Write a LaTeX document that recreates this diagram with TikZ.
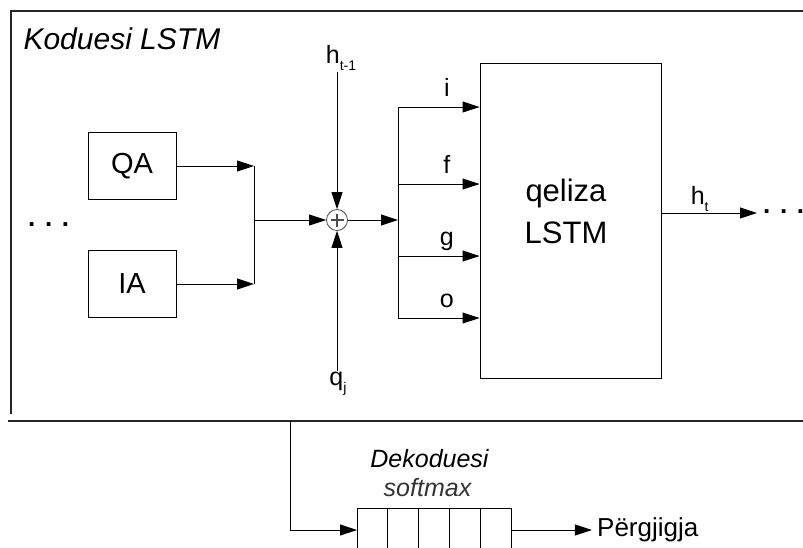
\documentclass[tikz,border=0pt]{standalone}
\usepackage{fontspec}
\setmainfont{Liberation Sans}
\usetikzlibrary{shapes.geometric, arrows.meta, positioning}

\tikzstyle{block} = [rectangle, draw=black, line width=0.9pt, minimum width=88pt, minimum height=67pt, font=\fontsize{29}{30}\selectfont]
\tikzstyle{arrow} = [line width=0.9pt, -{Triangle[length=17pt, width=11pt]}]
\tikzstyle{wire} = [line width=0.9pt]
\tikzstyle{frame} = [line width=1.1pt, draw=black!85]
\tikzstyle{gatelabel} = [font=\fontsize{25}{26}\selectfont, inner sep=4pt, text depth=6pt]
\tikzstyle{varlabel} = [font=\fontsize{25}{26}\selectfont, inner sep=1pt]
\tikzstyle{dotsnode} = [font=\fontsize{26}{26}\selectfont\bfseries, inner sep=0pt]
\tikzstyle{sumnode} = [circle, draw=black!70, line width=0.8pt, minimum size=21pt, inner sep=0pt,
  path picture={\draw[line width=1.3pt] ([xshift=-6.5pt]path picture bounding box.center) -- ([xshift=6.5pt]path picture bounding box.center)
    ([yshift=-6.5pt]path picture bounding box.center) -- ([yshift=6.5pt]path picture bounding box.center);}]
\newcommand{\lowsub}[1]{\raisebox{-7pt}{\fontsize{14}{14}\selectfont #1}}

\begin{document}
\begin{tikzpicture}[x=1pt, y=-1pt]
\useasboundingbox (0,0) rectangle (803,547);
\clip (0,0) rectangle (803,547);

% encoder frame
\draw[frame] (803,11) -- (11,11) -- (11,414);
\draw[frame] (8,421) -- (803,421);
\node (title) [anchor=base west, font=\fontsize{30}{32}\selectfont\itshape] at (20,49) {Koduesi LSTM};

% inputs
\node (QA) [block] at (132,166) {QA};
\node (IA) [block] at (132,284) {IA};
\node (dotsL) [dotsnode, anchor=base west] at (28,226) {. . .};
\coordinate (join) at (254,220);

\draw[arrow] (QA.east) -- (QA.east -| join);
\draw[arrow] (IA.east) -- (IA.east -| join);
\draw[wire] (QA.east -| join) -- (IA.east -| join);

% sum of inputs
\node (plus) [sumnode] at (337,220) {};
\node (hprev) [varlabel] at (341,58) {h\lowsub{t-1}};
\node (qin) [varlabel] at (338,384) {q\lowsub{j}};
\draw[arrow] (join) -- (plus);
\draw[arrow] (plus |- hprev.south) -- (plus);
\draw[arrow] (plus |- qin.north) -- (plus);

% lstm cell and gates
\node (cell) [rectangle, draw=black, line width=0.9pt, minimum width=181pt, minimum height=315pt] at (570.5,220.5) {};
\node (celltext) [align=center, font=\fontsize{31}{42}\selectfont] at (566,211) {qeliza\\LSTM};
\coordinate (bus) at (398,220);
\draw[arrow] (plus) -- (bus);
\foreach \g/\y in {i/107, f/184, g/256, o/318}{
  \coordinate (gate\g) at (398,\y);
  \draw[arrow] (gate\g) -- (gate\g -| cell.west) node[gatelabel, above, pos=0.6] {\g};
}
\draw[wire] (gatei) -- (gateo);

\coordinate (hout) at (757,213);
\draw[arrow] (cell.east |- hout) -- (hout) node[varlabel, above, pos=0.4] {h\lowsub{t}};
\node (dotsR) [dotsnode, anchor=base west] at (763,213) {. . .};

% decoder
\node (dec) [rectangle, draw=black, line width=0.9pt, minimum width=154pt, minimum height=44pt, inner sep=0pt] at (434.5,530) {};
\foreach \k in {1,...,4}
  \draw[wire] ([xshift=\k*30.8pt]dec.north west) -- ([xshift=\k*30.8pt]dec.south west);
\node (smx) [above=11pt of dec, xshift=-7pt, inner sep=0pt, text=black!80, font=\fontsize{25}{26}\selectfont\itshape] {softmax};
\node (dekod) [above=10pt of smx, xshift=2pt, inner sep=0pt, font=\fontsize{25}{26}\selectfont\itshape] {Dekoduesi};
\node (ans) [right=80pt of dec, inner sep=5pt, font=\fontsize{26}{28}\selectfont] {Përgjigja};

\coordinate (tap) at (290,421);
\draw[arrow] (tap) |- (dec.west);
\draw[arrow] (dec.east) -- (ans.west);
\end{tikzpicture}
\end{document}
